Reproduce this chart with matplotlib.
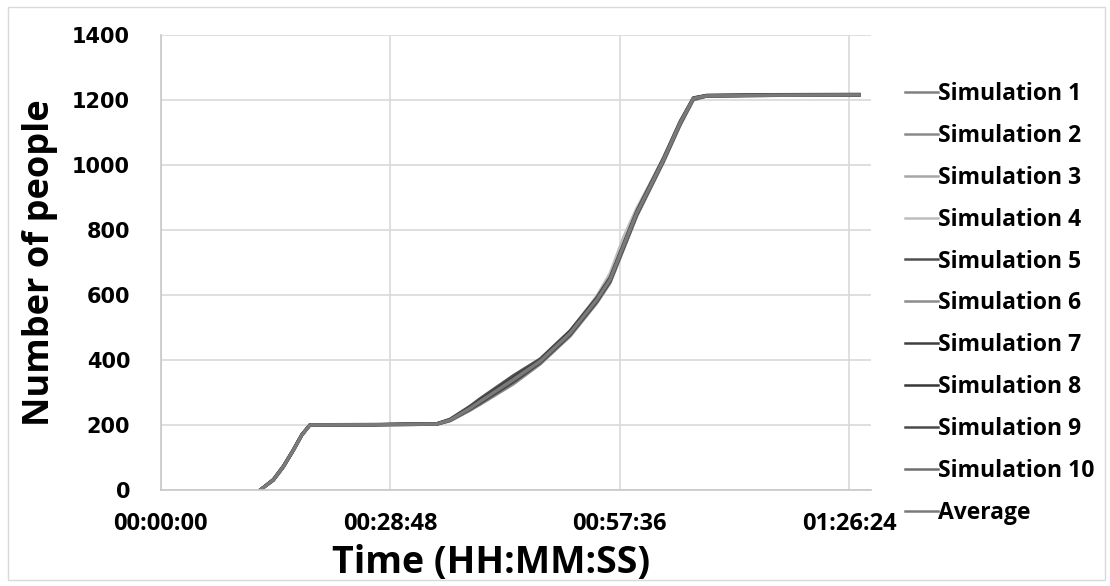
import matplotlib
matplotlib.use("Agg")
import matplotlib.pyplot as plt
from matplotlib.ticker import FuncFormatter
from matplotlib.patches import Rectangle

# time in seconds after start, shared by all runs
time_s = [748, 848, 923, 999, 1062, 1124, 1600, 2079, 2179, 2330, 2405, 2656, 2857,
          3083, 3284, 3384, 3484, 3585, 3686, 3786, 3911, 4011, 4112, 4600, 5259]

sim1 = [0, 30, 71, 122, 168, 200, 201, 203, 214, 250, 272, 340, 396, 480, 582, 644, 746, 850, 932, 1014, 1126, 1203, 1212, 1214, 1215]
sim2 = [0, 32, 73, 124, 170, 200, 201, 204, 217, 256, 278, 347, 401, 488, 590, 652, 754, 855, 937, 1019, 1131, 1205, 1213, 1215, 1216]
sim3 = [0, 29, 70, 121, 167, 199, 200, 202, 212, 245, 265, 330, 389, 475, 577, 638, 740, 843, 926, 1009, 1122, 1200, 1211, 1213, 1214]
sim4 = [0, 31, 72, 123, 169, 200, 201, 203, 216, 252, 270, 336, 394, 486, 596, 666, 776, 866, 943, 1022, 1133, 1206, 1213, 1215, 1216]
sim5 = [0, 33, 74, 125, 171, 201, 202, 204, 218, 258, 281, 352, 403, 490, 592, 654, 756, 858, 940, 1021, 1133, 1206, 1214, 1216, 1217]
sim6 = [0, 30, 72, 122, 168, 200, 200, 202, 213, 246, 263, 326, 387, 473, 575, 637, 739, 842, 926, 1008, 1121, 1199, 1211, 1213, 1214]
sim7 = [0, 31, 71, 123, 169, 200, 201, 203, 215, 251, 271, 338, 395, 482, 584, 646, 748, 851, 933, 1015, 1128, 1204, 1212, 1214, 1215]
sim8 = [0, 32, 73, 124, 170, 201, 201, 204, 216, 254, 276, 345, 399, 486, 587, 649, 751, 854, 935, 1017, 1130, 1205, 1213, 1215, 1216]
sim9 = [0, 30, 70, 121, 168, 200, 200, 202, 214, 248, 267, 332, 391, 477, 579, 641, 743, 846, 929, 1011, 1124, 1202, 1211, 1213, 1214]
sim10 = [0, 31, 72, 123, 169, 200, 201, 203, 215, 252, 273, 341, 397, 483, 585, 647, 749, 852, 934, 1016, 1129, 1204, 1212, 1214, 1215]
average = [0, 31, 72, 123, 169, 200, 201, 203, 215, 251, 272, 339, 395, 482, 585, 647, 750, 852, 933, 1015, 1128, 1204, 1212, 1214, 1215]

labels = ["Simulation 1", "Simulation 2", "Simulation 3", "Simulation 4", "Simulation 5",
          "Simulation 6", "Simulation 7", "Simulation 8", "Simulation 9", "Simulation 10", "Average"]
series = [sim1, sim2, sim3, sim4, sim5, sim6, sim7, sim8, sim9, sim10, average]
colors = ["#808080", "#8a8a8a", "#a6a6a6", "#bdbdbd", "#505050", "#8c8c8c",
          "#404040", "#383838", "#4a4a4a", "#6e6e6e", "#7a7a7a"]

x_ticks = [0, 1728, 3456, 5184]
y_ticks = [0, 200, 400, 600, 800, 1000, 1200, 1400]


def hms(v, pos):
    v = int(round(v))
    return "%02d:%02d:%02d" % (v // 3600, (v % 3600) // 60, v % 60)


fig = plt.figure(figsize=(11.1, 5.86), dpi=100)
ax = fig.add_axes([0.1448, 0.1638, 0.64, 0.777])

for ys, lab, c in zip(series, labels, colors):
    ax.plot(time_s, ys, color=c, lw=2.2, label=lab)

ax.set_xlim(0, 5350)
ax.set_ylim(0, 1400)
ax.set_xticks(x_ticks)
ax.set_yticks(y_ticks)
ax.xaxis.set_major_formatter(FuncFormatter(hms))
ax.grid(True, color="#d9d9d9", lw=1.2)
ax.set_axisbelow(True)
for s in ["top", "right"]:
    ax.spines[s].set_visible(False)
for s in ["left", "bottom"]:
    ax.spines[s].set_color("#c8c8c8")
    ax.spines[s].set_linewidth(1.2)
ax.tick_params(length=0)
ax.tick_params(axis="y", pad=22)
ax.tick_params(axis="x", pad=16)
for t in ax.get_yticklabels():
    t.set_fontfamily("DejaVu Sans")
    t.set_fontweight("bold")
    t.set_fontsize(15)
for t in ax.get_xticklabels():
    t.set_fontfamily("Open Sans")
    t.set_fontweight("bold")
    t.set_fontsize(17)

ax.set_xlabel("Time (HH:MM:SS)", fontfamily="Open Sans", fontweight="bold", fontsize=27)
ax.xaxis.set_label_coords(0.465, -0.118)
ax.set_ylabel("Number of people", fontfamily="Open Sans", fontweight="bold", fontsize=26, labelpad=10)

leg = ax.legend(loc="upper left", bbox_to_anchor=(905 / 1110, 1 - 82 / 586),
                bbox_transform=fig.transFigure, frameon=False, handlelength=1.45,
                handletextpad=0.0, labelspacing=0.78, borderpad=0, borderaxespad=0,
                prop={"family": "Open Sans", "weight": "bold", "size": 16.5})
for h in leg.get_lines():
    h.set_linewidth(1.8)

fig.patches.append(Rectangle((8 / 1110, 6 / 586), 1097 / 1110, 573 / 586,
                             transform=fig.transFigure, fill=False,
                             edgecolor="#d9d9d9", lw=1.0))

fig.savefig("out.png", dpi=100)
